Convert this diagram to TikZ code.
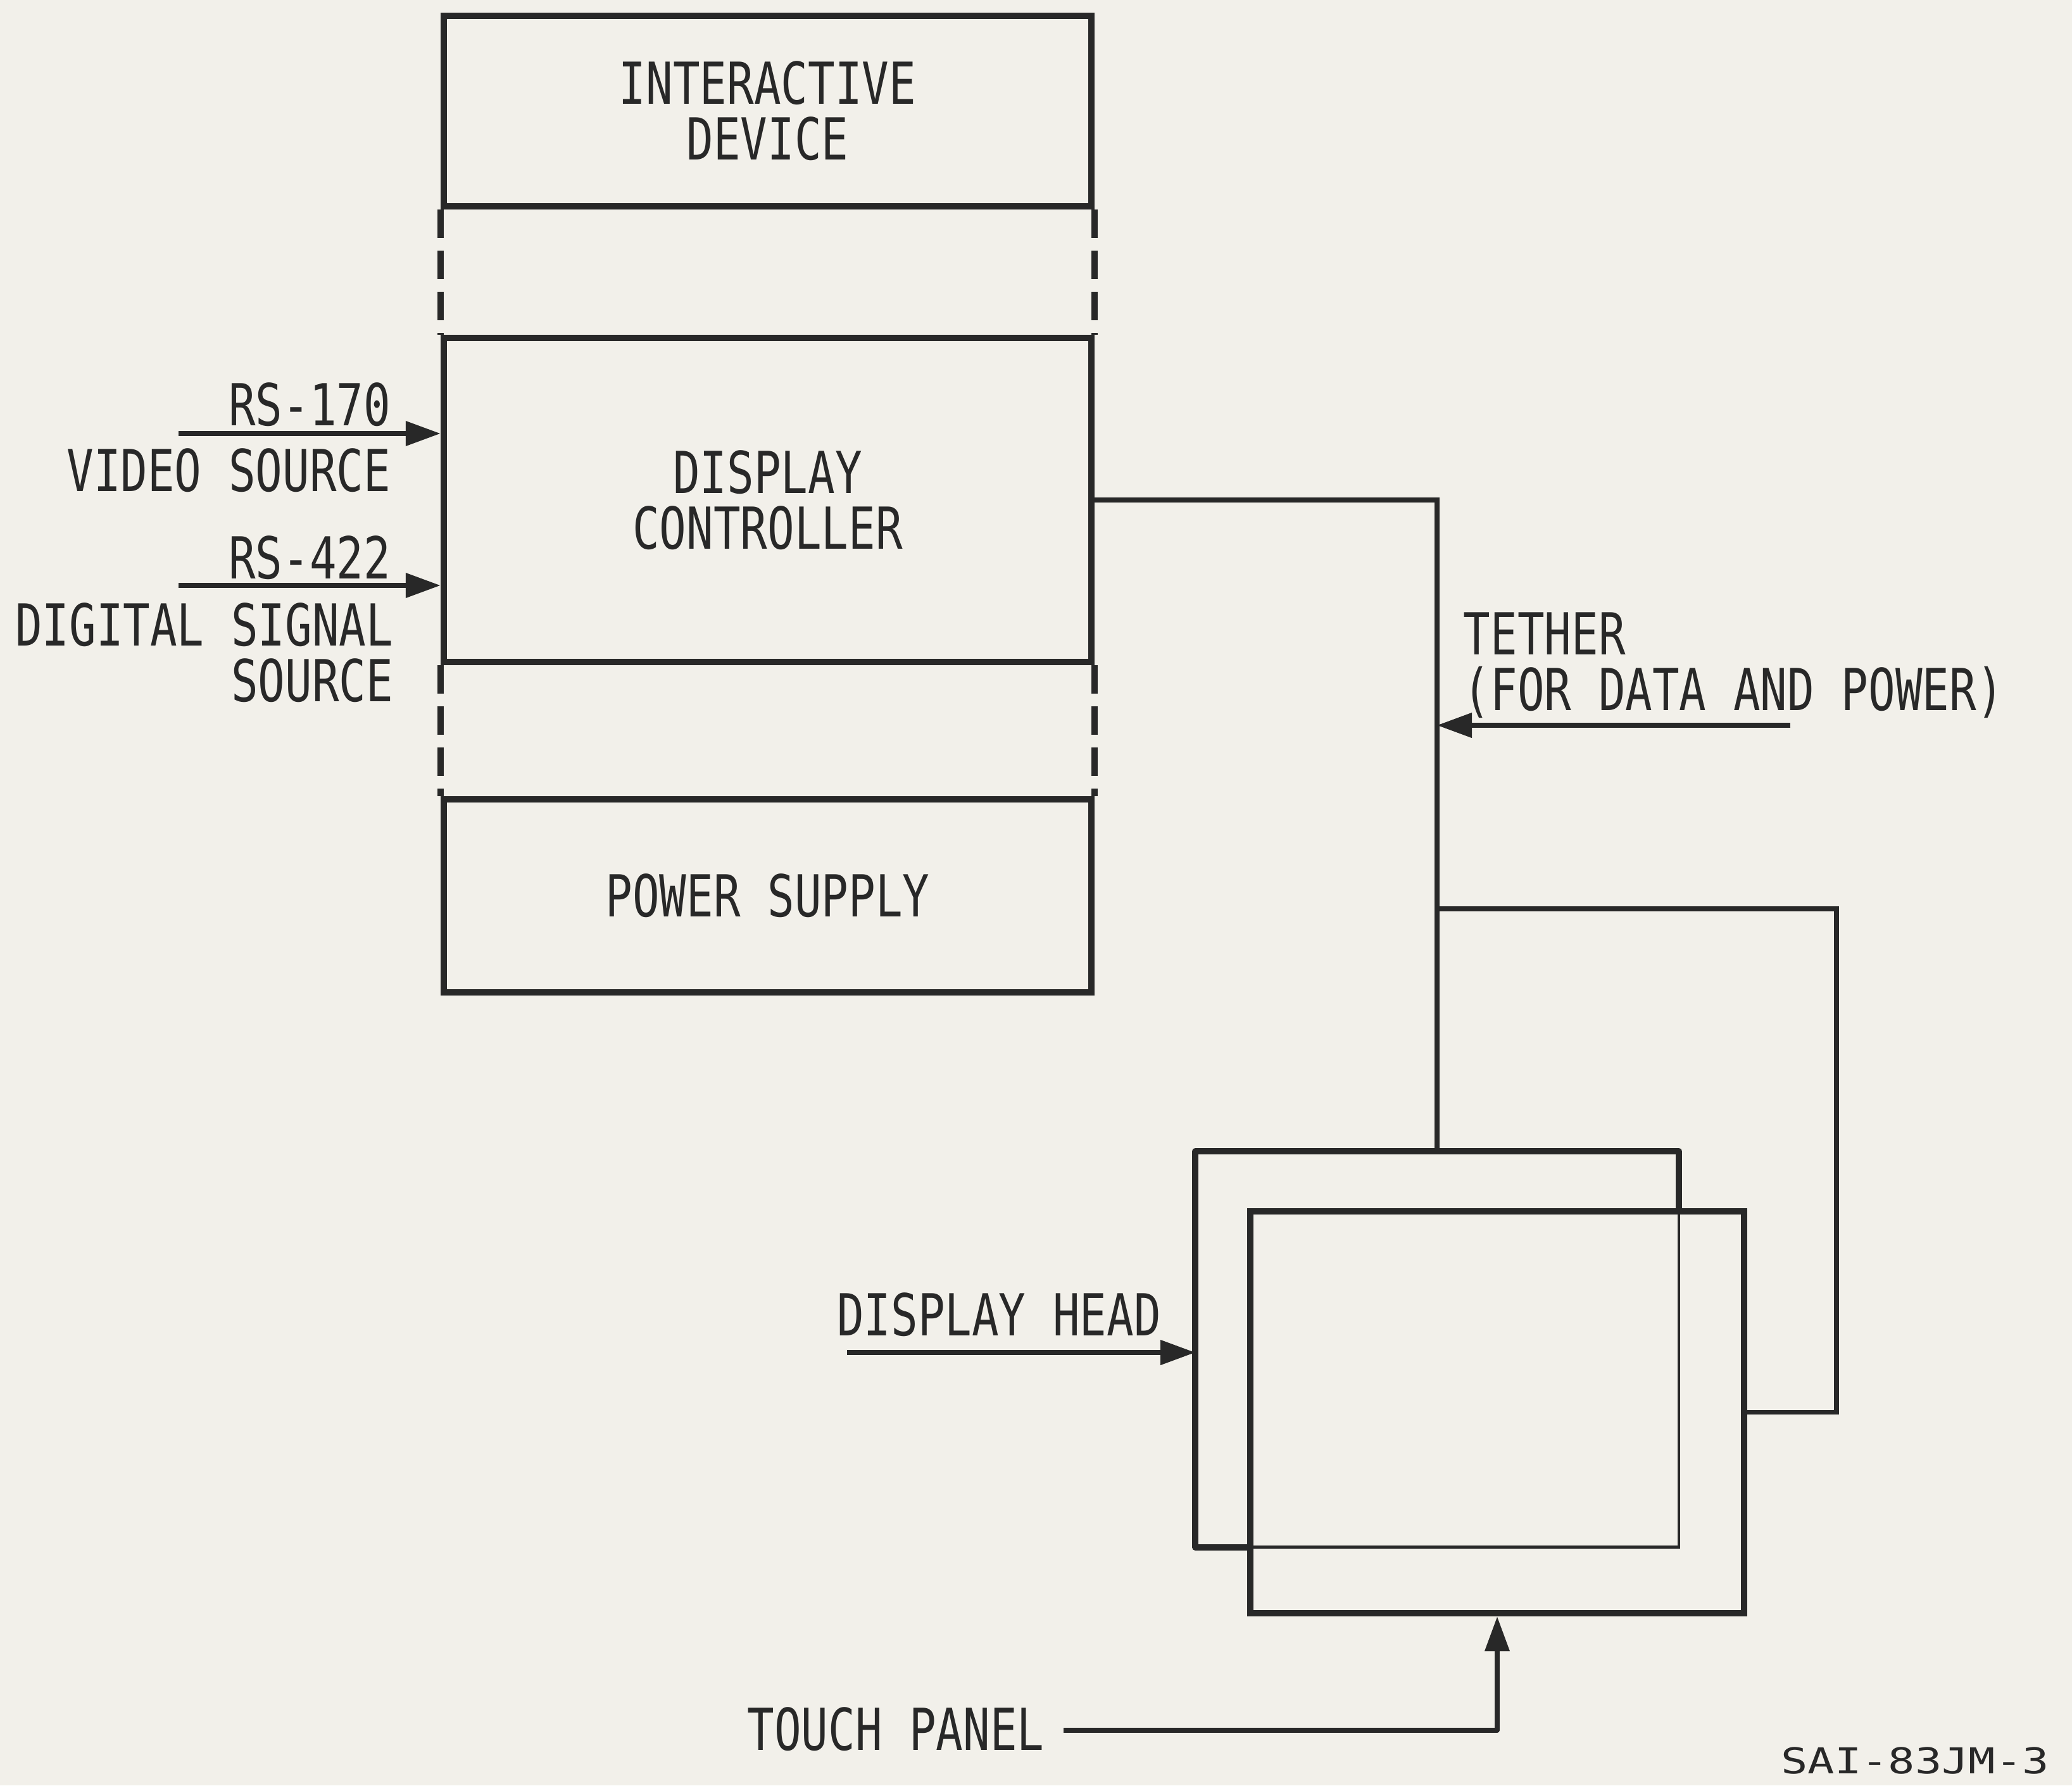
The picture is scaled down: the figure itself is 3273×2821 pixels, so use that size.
\documentclass[tikz,border=0pt]{standalone}
\usepackage{fontspec}
\usetikzlibrary{arrows.meta}
\newfontfamily\lettering[FakeStretch=0.775]{DejaVu Sans Mono}
\newfontfamily\tagfont[FakeStretch=1.25]{DejaVu Sans Mono}
\definecolor{paper}{RGB}{242,240,234}
\definecolor{ink}{RGB}{40,40,40}
\tikzset{
  blockbox/.style={draw=ink, line width=2.8pt, minimum width=10.23cm, inner sep=0pt, align=center, font=\lettering\fontsize{26}{25}\selectfont, text=ink},
  lbl/.style={inner sep=0pt, align=center, font=\lettering\fontsize{26}{25}\selectfont, text=ink},
  conn/.style={draw=ink, line width=2.1pt},
  thinl/.style={draw=ink, line width=1.4pt},
  thickl/.style={draw=ink, line width=2.8pt, line join=round},
  dashside/.style={draw=ink, line width=2.8pt, dash pattern=on 0.45cm off 0.2cm},
  arr/.style={conn, -{Triangle[length=5.5mm, width=3.8mm]}}
}
\begin{document}
\begin{tikzpicture}[x=0.01cm, y=-0.01cm]
\fill[paper] (0,0) rectangle (3273,2821);
\useasboundingbox (0,0) rectangle (3273,2821);

% column of blocks
\node[blockbox, minimum height=3.01cm] (id) at (1212.5,175.5) {INTERACTIVE\\DEVICE};
\node[blockbox, minimum height=5.12cm] (dc) at (1212.5,790) {DISPLAY\\CONTROLLER};
\node[blockbox, minimum height=3.05cm] (ps) at (1212.5,1415.5) {POWER SUPPLY};

\draw[dashside] (id.south west) -- (dc.north west);
\draw[dashside] (id.south east) -- (dc.north east);
\draw[dashside] (dc.south west) -- (ps.north west);
\draw[dashside] (dc.south east) -- (ps.north east);

% inputs
\coordinate (v0) at (282,685);
\coordinate (d0) at (282,925);
\draw[arr] (v0) -- (v0 -| dc.west);
\draw[arr] (d0) -- (d0 -| dc.west);
\node[lbl, anchor=east] (rs170) at (618,639) {RS-170};
\node[lbl, anchor=east] (vs) at (618,743) {VIDEO SOURCE};
\node[lbl, anchor=east] (rs422) at (618,881) {RS-422};
\node[lbl, anchor=east, align=right] (dss) at (622,1031) {DIGITAL SIGNAL\\SOURCE};

% display head
\node[minimum width=7.62cm, minimum height=6.24cm, inner sep=0pt] (hb) at (2270,2132) {};
\node[draw=ink, line width=2.8pt, minimum width=7.80cm, minimum height=6.35cm, inner sep=0pt] (hf) at (2365,2231.5) {};
\draw[thickl] (hb.south west -| hf.west) -- (hb.south west) -- (hb.north west) -- (hb.north east) -- (hb.north east |- hf.north);
\draw[thinl] (hb.north east |- hf.north) -- (hb.south east) -- (hb.south west -| hf.west);

% tether
\draw[conn] (dc.east) -- (dc.east -| hb.north) -- (hb.north);
\coordinate (tb) at (2271,1436);
\coordinate (tr) at (2901,1436);
\draw[conn] (tb) -- (tr) -- (tr |- hf.east) -- (hf.east);
\coordinate (ta) at (2828,1146);
\draw[arr] (ta) -- (ta -| hb.north);
\node[lbl, anchor=west, align=left] (teth) at (2311,1051) {TETHER\\(FOR DATA AND POWER)};

% display head label
\coordinate (dh) at (1338,2137);
\draw[arr] (dh) -- (dh -| hb.west);
\node[lbl] (dhl) at (1578,2077) {DISPLAY HEAD};

% touch panel
\coordinate (tp) at (1680,2734);
\draw[conn, line join=round] (tp) -- (tp -| hf.south) -- ([yshift=-0.4cm]hf.south);
\draw[arr] ([yshift=-0.5cm]hf.south) -- (hf.south);
\node[lbl] (tpl) at (1415,2732) {TOUCH PANEL};

% drawing number
\node[inner sep=0pt, text=ink, font=\tagfont\fontsize{16}{18}\selectfont] (tag) at (3025,2782) {SAI-83JM-3};
\end{tikzpicture}
\end{document}
